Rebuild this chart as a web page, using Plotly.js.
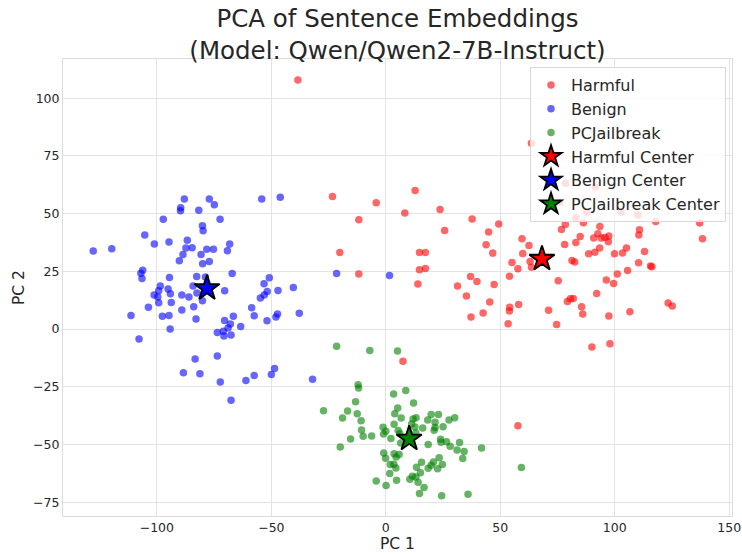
<!DOCTYPE html>
<html>
<head>
<meta charset="utf-8">
<script src="https://cdn.plot.ly/plotly-3.0.1.min.js"></script>
<style>html,body{margin:0;padding:0;background:#fff;}#chart{width:742px;height:554px;}</style>
</head>
<body>
<div id="chart"></div>
<script>
const harmfulX = [-38.4, -23.3, -4.2, 12.8, -11.8, 8.3, 23.7, 37.7, 49.3, 25.7,
  44.9, -20.1, 14.7, 17.3, 43.8, 46.7, 59.5, 59.8, 55.1, 57.7,
  -11.8, 14.7, 17.3, 14.0, 37.0, 39.8, 31.3, 47.3, 54.0, 35.2,
  45.4, 58.0, 54.1, 54.0, 42.5, 37.2, 53.4, 7.5, 62.5, 63.0,
  63.6, 75.3, 71.1, 74.6, 79.3, 80.6, 81.9, 85.5, 86.0, 90.0,
  97.9, 92.1, 96.3, 99.5, 101.1, 105.6, 97.4, 106.6, 123.3, 125.1,
  110.4, 115.6, 116.2, 113.0, 110.5, 110.8, 105.1, 103.4, 99.9, 93.4,
  91.3, 88.6, 81.3, 82.5, 78.1, 83.0, 84.9, 76.7, 78.4, 83.0,
  86.3, 93.5, 92.6, 90.8, 94.1, 95.7, 97.4, 97.2, 110.1, 117.9,
  137.1, 138.3, 87.8, 102.8, 76.0, 78.5, 63.6, 91.5, 57.7];
const harmfulY = [107.9, 57.4, 54.7, 60.0, 47.4, 50.3, 51.8, 47.7, 45.5, 42.7,
  42.0, 33.2, 33.2, 33.2, 36.5, 32.9, 39.1, 32.7, 28.8, 26.1,
  23.9, 25.7, 26.2, 19.5, 22.8, 20.6, 18.6, 19.3, 22.9, 14.3,
  11.7, 10.6, 9.4, 7.8, 6.9, 5.2, 2.3, -14.0, 36.2, 29.3,
  26.8, 20.9, 8.1, 2.0, 11.9, 13.1, 13.2, 9.7, 6.5, -7.8,
  -6.4, 15.4, 21.2, 19.7, 23.8, 25.4, 5.6, 7.5, 11.3, 10.0,
  28.7, 27.3, 27.0, 33.6, 40.8, 43.0, 35.1, 33.0, 32.6, 35.1,
  33.3, 32.6, 29.7, 29.1, 36.6, 37.5, 40.1, 43.1, 45.3, 48.2,
  46.0, 44.4, 41.3, 39.4, 39.5, 39.7, 40.3, 37.8, 49.4, 46.6,
  45.9, 39.1, 50.5, 50.6, 54.8, 63.2, 80.5, 61.5, -41.9];

const benignX = [-88.0, -77.1, -74.9, -89.6, -89.7, -81.7, -54.2, -46.1, -97.2, -72.4,
  -80.1, -79.8, -105.3, -101.1, -94.7, -86.7, -68.2, -127.8, -119.7, -87.3,
  -84.6, -78.2, -75.3, -69.2, -88.6, -80.7, -90.2, -77.1, -80.0, -106.2,
  -107.0, -106.5, -94.5, -82.6, -78.8, -67.1, -98.5, -95.1, -99.2, -84.2,
  -101.2, -99.6, -94.1, -89.1, -86.0, -82.5, -70.4, -99.2, -93.7, -80.1,
  -103.7, -83.9, -89.1, -111.3, -97.6, -94.7, -82.9, -53.2, -50.9, -51.8,
  -53.1, -54.8, -47.1, -40.4, -58.6, -57.5, -51.9, -48.0, -47.3, -37.8,
  -66.6, -70.4, -67.9, -63.4, -68.9, -71.0, -73.6, -70.7, -67.6, -94.2,
  -107.8, -83.3, -73.6, -88.4, -81.2, -72.3, -61.1, -57.5, -48.6, -50.0,
  -32.0, -67.6, -21.5, 1.6];
const benignY = [56.3, 56.3, 53.9, 52.5, 51.3, 51.5, 56.3, 57.1, 47.6, 47.6,
  44.7, 42.6, 40.7, 36.8, 37.7, 38.5, 36.8, 33.8, 34.8, 35.1,
  35.2, 34.6, 34.6, 33.9, 32.3, 32.3, 29.6, 29.3, 28.3, 25.5,
  24.2, 21.9, 22.3, 22.8, 22.5, 24.1, 18.7, 17.3, 16.6, 18.7,
  14.8, 13.9, 15.3, 14.8, 13.9, 15.6, 16.6, 11.4, 11.5, 12.3,
  9.4, 9.7, 8.2, 5.9, 5.5, 5.9, 4.3, 19.6, 22.2, 16.3,
  14.7, 13.4, 16.7, 18.0, 9.2, 5.8, 3.6, 5.2, 6.5, 6.8,
  5.5, 3.7, 2.2, 1.1, 0.4, -1.0, -1.5, -3.0, -2.6, 0.0,
  -4.3, -13.0, -11.7, -18.9, -19.4, -22.9, -22.3, -20.1, -17.1, -19.7,
  -21.8, -30.9, 24.1, 23.2];

const jailbreakX = [-21.5, -7.0, 5.1, -12.1, -11.9, 3.4, 8.7, -13.2, 12.1, -27.2,
  -16.7, -12.5, -18.9, -10.8, 5.2, 3.9, 6.7, 11.9, 13.2, 19.8,
  23.0, 18.3, 21.5, 27.6, 30.1, 3.6, 11.3, 16.1, 21.5, 25.0,
  21.1, -1.2, -1.0, 0.0, -10.6, -9.9, -6.2, -15.4, 2.2, 5.4,
  6.1, 13.1, 12.7, -19.9, 6.5, 18.5, 23.9, 26.5, 24.1, 28.1,
  31.1, 32.2, 34.2, 33.6, 41.8, -0.9, 3.6, 5.8, -0.1, 4.5,
  1.9, 3.5, 4.4, 23.3, 15.6, 20.8, 19.8, 24.7, 22.6, 18.5,
  13.4, 15.1, 13.1, 11.6, 10.5, 1.7, 4.7, -4.2, 0.1, 14.1,
  16.7, 14.7, 24.4, 35.9, 59.2];
const jailbreakY = [-7.5, -9.3, -9.5, -24.1, -25.5, -28.1, -26.6, -31.5, -32.0, -35.4,
  -35.5, -36.7, -38.5, -39.7, -34.2, -36.7, -38.5, -39.0, -38.4, -37.0,
  -37.0, -39.4, -40.4, -39.4, -38.4, -41.3, -41.1, -42.9, -42.7, -42.3,
  -43.9, -42.6, -45.5, -44.3, -43.7, -46.5, -46.3, -47.6, -47.4, -44.0,
  -45.3, -45.0, -42.4, -51.1, -49.4, -50.0, -47.8, -48.8, -49.1, -50.8,
  -52.4, -49.2, -53.1, -56.1, -51.5, -53.7, -54.0, -54.4, -56.0, -55.4,
  -58.7, -58.6, -60.2, -55.8, -57.7, -57.6, -59.0, -58.7, -60.5, -60.3,
  -59.9, -62.3, -64.1, -63.8, -65.1, -62.6, -65.5, -65.8, -67.8, -66.4,
  -68.7, -71.3, -72.2, -71.6, -60.0];

const centerNames = ["Harmful Center", "Benign Center", "PCJailbreak Center"];
const centerX = [68.2, -78.1, 10.2];
const centerY = [30.4, 17.7, -47.5];

const xTicks = [-100, -50, 0, 50, 100, 150];
const yTicks = [-75, -50, -25, 0, 25, 50, 75, 100];

const FONT = "DejaVu Sans, sans-serif";
const TXT = "#262626";

function pts(name, x, y, color) {
  return {type: "scatter", mode: "markers", name: name, x: x, y: y,
    marker: {color: color, size: 7.5, opacity: 0.6, line: {width: 0}}};
}
function star(i, color) {
  return {type: "scatter", mode: "markers", name: centerNames[i], x: [centerX[i]], y: [centerY[i]],
    marker: {symbol: "star", color: color, size: 19, line: {color: "black", width: 1.8}}};
}

const data = [
  pts("Harmful", harmfulX, harmfulY, "#ff0000"),
  pts("Benign", benignX, benignY, "#0000ff"),
  pts("PCJailbreak", jailbreakX, jailbreakY, "#008000"),
  star(0, "red"), star(1, "blue"), star(2, "green")
];

const axisCommon = {
  showgrid: true, gridcolor: "#e3e3e3", gridwidth: 1,
  zeroline: false, showline: true, mirror: true, linecolor: "#dcdcdc", linewidth: 1,
  ticks: "", tickfont: {family: FONT, size: 12.5, color: TXT}
};

const layout = {
  width: 742, height: 554,
  margin: {l: 63, r: 10, t: 59, b: 38},
  paper_bgcolor: "#ffffff", plot_bgcolor: "#ffffff",
  font: {family: FONT, color: TXT},
  showlegend: true,
  title: {text: "PCA of Sentence Embeddings<br>(Model: Qwen/Qwen2-7B-Instruct)",
    font: {family: FONT, size: 24.5, color: TXT},
    x: 0.5, xref: "paper", xanchor: "center",
    y: 1 - 27 / 554, yref: "container", yanchor: "middle"},
  xaxis: Object.assign({}, axisCommon, {
    range: [-141, 151.2], tickvals: xTicks,
    title: {text: "PC 1", font: {family: FONT, size: 15.5, color: TXT}, standoff: 2}
  }),
  yaxis: Object.assign({}, axisCommon, {
    range: [-81, 117], tickvals: yTicks,
    title: {text: "PC 2", font: {family: FONT, size: 15.5, color: TXT}, standoff: 4}
  }),
  legend: {
    x: 1 - 6 / 669, xanchor: "right", y: (516 - 67) / 457, yanchor: "top",
    bgcolor: "rgba(255,255,255,0.8)", bordercolor: "#d9d9d9", borderwidth: 1,
    font: {family: FONT, size: 16, color: TXT}
  }
};

Plotly.newPlot("chart", data, layout, {displayModeBar: false, staticPlot: true});
</script>
</body>
</html>
